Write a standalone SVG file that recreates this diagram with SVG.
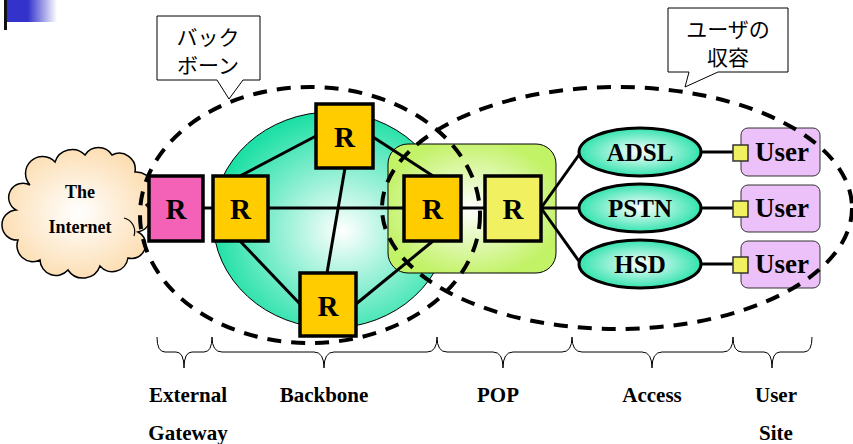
<svg xmlns="http://www.w3.org/2000/svg" width="853" height="444" viewBox="0 0 853 444">
<defs>
<linearGradient id="gBlue" x1="0" y1="0" x2="1" y2="0">
<stop offset="0" stop-color="#3333cc"/><stop offset="0.45" stop-color="#3333cc"/><stop offset="1" stop-color="#ffffff"/>
</linearGradient>
<radialGradient id="gTeal" cx="0.55" cy="0.55" r="0.55">
<stop offset="0" stop-color="#ffffff"/><stop offset="1" stop-color="#1ee0a6"/>
</radialGradient>
<radialGradient id="gPop" cx="0.5" cy="0.5" r="0.6">
<stop offset="0" stop-color="#ffffff"/><stop offset="0.9" stop-color="#c2f266"/>
</radialGradient>
<radialGradient id="gCloud" cx="0.5" cy="0.5" r="0.55">
<stop offset="0" stop-color="#ffffff"/><stop offset="1" stop-color="#fcdcae"/>
</radialGradient>
<radialGradient id="gEll" cx="0.5" cy="0.5" r="0.55">
<stop offset="0" stop-color="#ffffff"/><stop offset="1" stop-color="#1ee0a6"/>
</radialGradient>
</defs>
<style>
.rbox{stroke:#000;stroke-width:3.5}
.rt{font-family:"Liberation Serif",serif;font-weight:bold;font-size:29px;text-anchor:middle;fill:#000}
.ln{stroke:#000;stroke-width:3;fill:none}
.dash{fill:none;stroke:#000;stroke-width:4;stroke-dasharray:14 10}
.ell{fill:url(#gEll);stroke:#000;stroke-width:3}
.et{font-family:"Liberation Serif",serif;font-weight:bold;font-size:25px;text-anchor:middle;fill:#000}
.ubox{fill:#ecc0f8;stroke:#333;stroke-width:1}
.sq{fill:#f0f060;stroke:#333;stroke-width:1.5}
.ut{font-family:"Liberation Serif",serif;font-weight:bold;font-size:27px;text-anchor:middle;fill:#000}
.lab{font-family:"Liberation Serif",serif;font-weight:bold;font-size:21px;text-anchor:middle;fill:#000}
.brace{fill:none;stroke:#000;stroke-width:1}
.co{fill:#fff;stroke:#000;stroke-width:1}
.jt{font-family:"Noto Sans CJK JP","Noto Sans",sans-serif;font-size:21px;text-anchor:middle;fill:#000}
.ct{font-family:"Liberation Serif",serif;font-weight:bold;font-size:18px;text-anchor:middle;fill:#000}
</style>

<g id="corner-mark">
<rect x="4" y="0" width="53" height="22" fill="url(#gBlue)"/>
<rect x="4" y="0" width="3" height="30" fill="#111"/>
</g>

<g id="backbone-area">
<ellipse cx="331" cy="220" rx="118" ry="108" fill="url(#gTeal)" stroke="#000" stroke-width="1"/>
</g>
<g id="pop-area">
<rect x="388" y="144" width="168" height="129" rx="20" fill="url(#gPop)" stroke="#000" stroke-width="1"/>
</g>

<g id="internet">
<path d="M30,185 A16,16 0 0 1 55,162 A18,18 0 0 1 85,155 A16,16 0 0 1 112,155 A16,16 0 0 1 135,172 A18,18 0 0 1 146,205 A16,16 0 0 1 138,232 A14,14 0 0 1 128,258 A16,16 0 0 1 100,266 A18,18 0 0 1 68,270 A16,16 0 0 1 40,260 A16,16 0 0 1 18,240 A14,14 0 0 1 16,210 A14,14 0 0 1 30,185 Z" fill="url(#gCloud)" stroke="#000" stroke-width="1.5"/>
<path d="M124,218 A14,14 0 0 1 134,236" fill="none" stroke="#000" stroke-width="1.2"/>
<text class="ct" x="80" y="198">The</text>
<text class="ct" x="80" y="233">Internet</text>
</g>

<g id="connectors">
<line class="ln" x1="204" y1="208" x2="213" y2="208"/>
<line class="ln" x1="268" y1="208" x2="404" y2="208"/>
<line class="ln" x1="461" y1="208" x2="485" y2="208"/>
<line class="ln" x1="316" y1="136" x2="240" y2="176"/>
<line class="ln" x1="373" y1="137" x2="433" y2="176"/>
<line class="ln" x1="345" y1="168" x2="327" y2="273"/>
<line class="ln" x1="240" y1="241" x2="300" y2="304"/>
<line class="ln" x1="356" y1="304" x2="433" y2="241"/>
<line class="ln" x1="541" y1="208" x2="581" y2="152"/>
<line class="ln" x1="541" y1="208" x2="580" y2="208"/>
<line class="ln" x1="541" y1="208" x2="581" y2="264"/>
<line class="ln" x1="701" y1="152" x2="733" y2="152"/>
<line class="ln" x1="701" y1="208" x2="733" y2="208"/>
<line class="ln" x1="701" y1="264" x2="733" y2="264"/>
</g>

<g id="r-gateway"><rect class="rbox" x="149" y="176" width="54" height="65" fill="#f462b8"/><text class="rt" x="176" y="219">R</text></g>
<g id="r-backbone-left"><rect class="rbox" x="213" y="176" width="55" height="65" fill="#ffcc00"/><text class="rt" x="240.5" y="219">R</text></g>
<g id="r-backbone-top"><rect class="rbox" x="316" y="104" width="57" height="64" fill="#ffcc00"/><text class="rt" x="344.5" y="147">R</text></g>
<g id="r-backbone-bottom"><rect class="rbox" x="300" y="273" width="56" height="63" fill="#ffcc00"/><text class="rt" x="328" y="316">R</text></g>
<g id="r-backbone-right"><rect class="rbox" x="404" y="176" width="57" height="65" fill="#ffcc00"/><text class="rt" x="432.5" y="219">R</text></g>
<g id="r-pop"><rect class="rbox" x="485" y="176" width="56" height="65" fill="#f0f060"/><text class="rt" x="513" y="219">R</text></g>

<g id="adsl"><ellipse class="ell" cx="640" cy="152" rx="61" ry="24"/><text class="et" x="640" y="161">ADSL</text></g>
<g id="pstn"><ellipse class="ell" cx="640" cy="208" rx="61" ry="24"/><text class="et" x="640" y="217">PSTN</text></g>
<g id="hsd"><ellipse class="ell" cx="640" cy="264" rx="61" ry="24"/><text class="et" x="640" y="273">HSD</text></g>

<g id="user1"><rect class="ubox" x="741" y="128" width="79" height="48" rx="7"/><rect class="sq" x="733" y="145" width="15" height="16"/><text class="ut" x="782" y="161">User</text></g>
<g id="user2"><rect class="ubox" x="741" y="185" width="79" height="47" rx="7"/><rect class="sq" x="733" y="201" width="15" height="16"/><text class="ut" x="782" y="217">User</text></g>
<g id="user3"><rect class="ubox" x="741" y="241" width="79" height="47" rx="7"/><rect class="sq" x="733" y="257" width="15" height="16"/><text class="ut" x="782" y="273">User</text></g>

<g id="regions">
<ellipse class="dash" cx="310" cy="215" rx="170" ry="128"/>
<ellipse class="dash" cx="617" cy="208" rx="235" ry="121"/>
</g>

<g id="callout-backbone">
<path class="co" d="M157,16 H260 V80 H243 L229,99 L217,80 H157 Z"/>
<text class="jt" x="208" y="45">バック</text>
<text class="jt" x="208" y="73">ボーン</text>
</g>
<g id="callout-user">
<path class="co" d="M668,8 H788 V72 H718 L685,87 L689,72 H668 Z"/>
<text class="jt" x="728" y="37">ユーザの</text>
<text class="jt" x="728" y="65">収容</text>
</g>

<g id="braces">
<path class="brace" d="M157,337 Q157,352 165,352 L176,352 Q184,352 184,368 Q184,352 192,352 L204,352 Q212,352 212,337"/>
<path class="brace" d="M212,337 Q212,352 222,352 L314,352 Q324,352 324,368 Q324,352 334,352 L427,352 Q437,352 437,337"/>
<path class="brace" d="M437,337 Q437,352 447,352 L493,352 Q503,352 503,368 Q503,352 513,352 L562,352 Q572,352 572,337"/>
<path class="brace" d="M572,337 Q572,352 582,352 L642,352 Q652,352 652,368 Q652,352 662,352 L723,352 Q733,352 733,337"/>
<path class="brace" d="M733,337 Q733,352 742,352 L764,352 Q772,352 772,368 Q772,352 780,352 L804,352 Q812,352 812,337"/>
</g>

<g id="labels">
<text class="lab" x="188" y="402">External</text>
<text class="lab" x="188" y="440">Gateway</text>
<text class="lab" x="324" y="402">Backbone</text>
<text class="lab" x="498" y="402">POP</text>
<text class="lab" x="652" y="402">Access</text>
<text class="lab" x="776" y="402">User</text>
<text class="lab" x="776" y="440">Site</text>
</g>
</svg>
